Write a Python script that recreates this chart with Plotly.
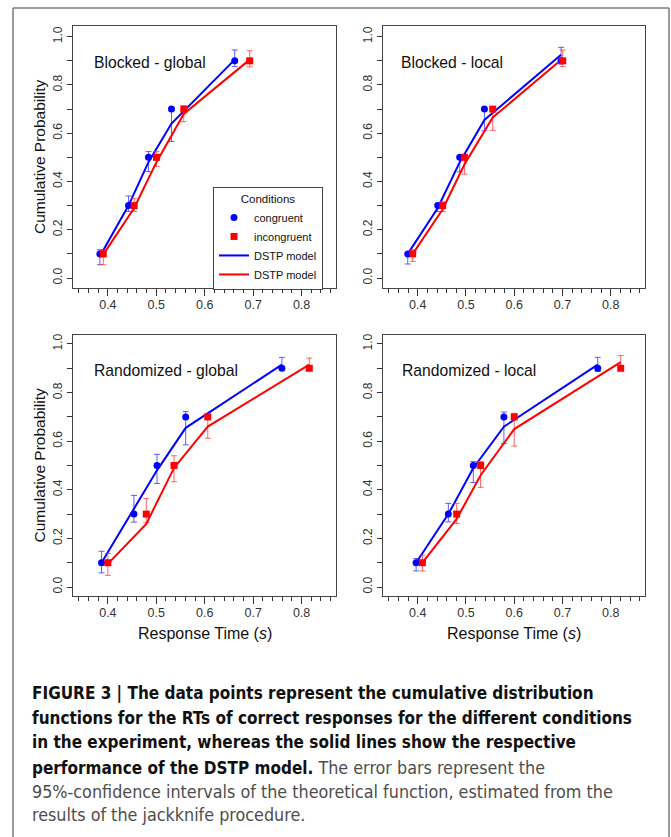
import plotly.graph_objects as go

W, H = 671, 837

# ---------------- data ----------------
panel_titles = ["Blocked - global", "Blocked - local", "Randomized - global", "Randomized - local"]
probs = [0.1, 0.3, 0.5, 0.7, 0.9]
x_tick_vals = [0.4, 0.5, 0.6, 0.7, 0.8]
x_tick_text = ["0.4", "0.5", "0.6", "0.7", "0.8"]
y_tick_vals = [0.0, 0.1, 0.2, 0.3, 0.4, 0.5, 0.6, 0.7, 0.8, 0.9, 1.0]
y_tick_text = ["0.0", "", "0.2", "", "0.4", "", "0.6", "", "0.8", "", "1.0"]

# Blocked - global
bg_cong_rt = [0.3835, 0.4426, 0.4838, 0.5313, 0.6619]
bg_incong_rt = [0.3904, 0.4543, 0.5003, 0.5567, 0.6928]
bg_cong_model = [0.09, 0.30, 0.48, 0.64, 0.905]
bg_cong_lo = [0.055, 0.276, 0.441, 0.566, 0.876]
bg_cong_hi = [0.117, 0.340, 0.524, 0.703, 0.945]
bg_incong_model = [0.097, 0.29, 0.48, 0.68, 0.905]
bg_incong_lo = [0.055, 0.276, 0.462, 0.648, 0.875]
bg_incong_hi = [0.117, 0.330, 0.524, 0.713, 0.942]

# Blocked - local
bl_cong_rt = [0.3793, 0.4415, 0.4870, 0.5382, 0.6971]
bl_incong_rt = [0.3896, 0.4518, 0.4967, 0.5554, 0.7005]
bl_cong_model = [0.10, 0.29, 0.48, 0.655, 0.925]
bl_cong_lo = [0.058, 0.275, 0.44, 0.61, 0.887]
bl_cong_hi = [0.103, 0.31, 0.50, 0.70, 0.956]
bl_incong_model = [0.10, 0.285, 0.47, 0.665, 0.91]
bl_incong_lo = [0.069, 0.275, 0.43, 0.612, 0.876]
bl_incong_hi = [0.117, 0.316, 0.509, 0.708, 0.945]

# Randomized - global
rg_cong_rt = [0.3869, 0.4538, 0.5014, 0.5607, 0.7593]
rg_incong_rt = [0.4000, 0.4793, 0.5366, 0.6062, 0.8159]
rg_cong_model = [0.10, 0.32, 0.48, 0.655, 0.915]
rg_cong_lo = [0.058, 0.267, 0.426, 0.585, 0.90]
rg_cong_hi = [0.147, 0.377, 0.546, 0.722, 0.945]
rg_incong_model = [0.095, 0.26, 0.49, 0.66, 0.915]
rg_incong_lo = [0.048, 0.265, 0.433, 0.612, 0.894]
rg_incong_hi = [0.138, 0.364, 0.54, 0.704, 0.942]

# Randomized - local
rl_cong_rt = [0.3966, 0.4634, 0.5152, 0.5786, 0.7731]
rl_incong_rt = [0.4097, 0.4807, 0.5303, 0.6000, 0.8207]
rl_cong_model = [0.10, 0.30, 0.49, 0.66, 0.915]
rl_cong_lo = [0.066, 0.268, 0.43, 0.59, 0.887]
rl_cong_hi = [0.117, 0.344, 0.516, 0.72, 0.945]
rl_incong_model = [0.10, 0.28, 0.46, 0.65, 0.925]
rl_incong_lo = [0.066, 0.261, 0.41, 0.58, 0.894]
rl_incong_hi = [0.131, 0.344, 0.516, 0.715, 0.953]

caption_lines = [
    ("FIGURE 3 | The data points represent the cumulative distribution", ""),
    ("functions for the RTs of correct responses for the different conditions", ""),
    ("in the experiment, whereas the solid lines show the respective", ""),
    ("performance of the DSTP model.", " The error bars represent the"),
    ("", "95%-confidence intervals of the theoretical function, estimated from the"),
    ("", "results of the jackknife procedure."),
]

# ---------------- layout helpers ----------------
def fx(p):
    return p / W

def fy(p):
    return 1 - p / H

BLUE = "#0000FF"
RED = "#FF0000"
FONT = "Liberation Sans, Arial, sans-serif"
CAP_FONT = "DejaVu Sans Condensed, Liberation Sans Narrow, Liberation Sans, sans-serif"

panels = [
    dict(title=panel_titles[0], cr=bg_cong_rt, ir=bg_incong_rt, cm=bg_cong_model, cl=bg_cong_lo, ch=bg_cong_hi,
         im=bg_incong_model, il=bg_incong_lo, ih=bg_incong_hi,
         xd=[fx(73), fx(336)], yd=[fy(288), fy(26)], yr=[-0.0414, 1.0443], lab=(92, 62), ytitle=True, xtitle=False),
    dict(title=panel_titles[1], cr=bl_cong_rt, ir=bl_incong_rt, cm=bl_cong_model, cl=bl_cong_lo, ch=bl_cong_hi,
         im=bl_incong_model, il=bl_incong_lo, ih=bl_incong_hi,
         xd=[fx(383), fx(645)], yd=[fy(288), fy(26)], yr=[-0.0414, 1.0443], lab=(399, 62), ytitle=False, xtitle=False),
    dict(title=panel_titles[2], cr=rg_cong_rt, ir=rg_incong_rt, cm=rg_cong_model, cl=rg_cong_lo, ch=rg_cong_hi,
         im=rg_incong_model, il=rg_incong_lo, ih=rg_incong_hi,
         xd=[fx(73), fx(336)], yd=[fy(596), fy(335)], yr=[-0.037, 1.037], lab=(92, 371), ytitle=True, xtitle=True),
    dict(title=panel_titles[3], cr=rl_cong_rt, ir=rl_incong_rt, cm=rl_cong_model, cl=rl_cong_lo, ch=rl_cong_hi,
         im=rl_incong_model, il=rl_incong_lo, ih=rl_incong_hi,
         xd=[fx(383), fx(645)], yd=[fy(596), fy(335)], yr=[-0.037, 1.037], lab=(400, 371), ytitle=False, xtitle=True),
]

fig = go.Figure()
annotations = []
layout_axes = {}

for i, p in enumerate(panels):
    n = i + 1
    xa = "x" if n == 1 else f"x{n}"
    ya = "y" if n == 1 else f"y{n}"
    first = (n == 1)

    # model lines with CI error bars
    fig.add_trace(go.Scatter(
        x=p["cr"], y=p["cm"], mode="lines", xaxis=xa, yaxis=ya,
        line=dict(color=BLUE, width=2),
        error_y=dict(type="data", symmetric=False,
                     array=[h - m for h, m in zip(p["ch"], p["cm"])],
                     arrayminus=[m - l for m, l in zip(p["cm"], p["cl"])],
                     color="rgba(40,40,255,0.75)", thickness=1, width=3),
        name="DSTP model", showlegend=first, legendrank=3))
    fig.add_trace(go.Scatter(
        x=p["ir"], y=p["im"], mode="lines", xaxis=xa, yaxis=ya,
        line=dict(color=RED, width=2),
        error_y=dict(type="data", symmetric=False,
                     array=[h - m for h, m in zip(p["ih"], p["im"])],
                     arrayminus=[m - l for m, l in zip(p["im"], p["il"])],
                     color="rgba(255,50,50,0.75)", thickness=1, width=3),
        name="DSTP model", showlegend=first, legendrank=4))
    # data points
    fig.add_trace(go.Scatter(
        x=p["cr"], y=probs, mode="markers", xaxis=xa, yaxis=ya,
        marker=dict(color=BLUE, symbol="circle", size=7),
        name="congruent", showlegend=first, legendrank=1))
    fig.add_trace(go.Scatter(
        x=p["ir"], y=probs, mode="markers", xaxis=xa, yaxis=ya,
        marker=dict(color=RED, symbol="square", size=7),
        name="incongruent", showlegend=first, legendrank=2))

    xkey = "xaxis" if n == 1 else f"xaxis{n}"
    ykey = "yaxis" if n == 1 else f"yaxis{n}"
    layout_axes[xkey] = dict(
        domain=p["xd"], anchor=ya, range=[0.328, 0.871],
        tickvals=x_tick_vals, ticktext=x_tick_text,
        ticks="outside", ticklen=7, tickwidth=1, tickcolor="#333",
        minor=dict(dtick=0.02, tick0=0, ticks="outside", ticklen=4, tickwidth=1, tickcolor="#333", showgrid=False),
        showline=True, linecolor="#444", linewidth=1, mirror=True,
        showgrid=False, zeroline=False, ticklabelstandoff=-2,
        tickfont=dict(family=FONT, size=12.5, color="#333"))
    layout_axes[ykey] = dict(
        domain=p["yd"], anchor=xa, range=p["yr"],
        tickvals=y_tick_vals, ticktext=y_tick_text, tickangle=-90,
        ticks="outside", ticklen=5, tickwidth=1, tickcolor="#333",
        showline=True, linecolor="#444", linewidth=1, mirror=True,
        showgrid=False, zeroline=False,
        tickfont=dict(family=FONT, size=12, color="#333"))

    annotations.append(dict(
        text=p["title"], x=fx(p["lab"][0]), y=fy(p["lab"][1]), xref="paper", yref="paper",
        xanchor="left", yanchor="middle", showarrow=False,
        font=dict(family=FONT, size=15.7, color="#111")))
    if p["ytitle"]:
        cy = (p["yd"][0] + p["yd"][1]) / 2
        annotations.append(dict(
            text="Cumulative Probability", x=fx(39), y=cy, xref="paper", yref="paper",
            xanchor="center", yanchor="middle", textangle=-90, showarrow=False,
            font=dict(family=FONT, size=15.5, color="#111")))
    if p["xtitle"]:
        cx = (p["xd"][0] + p["xd"][1]) / 2
        annotations.append(dict(
            text="Response Time (<i>s</i>)", x=cx, y=fy(633), xref="paper", yref="paper",
            xanchor="center", yanchor="middle", showarrow=False,
            font=dict(family=FONT, size=16, color="#111")))

# caption
cap_y = [693, 718, 742, 767, 791, 814]
for (bold, normal), yy in zip(caption_lines, cap_y):
    txt = ""
    if bold:
        txt += f"<b>{bold}</b>"
    if normal:
        txt += f"<span style='color:#4d4d4d;font-size:17.8px'>{normal}</span>"
    annotations.append(dict(
        text=txt, x=fx(30), y=fy(yy), xref="paper", yref="paper",
        xanchor="left", yanchor="middle", showarrow=False,
        font=dict(family=CAP_FONT, size=17, color="#111")))

shapes = [
    dict(type="line", xref="paper", yref="paper", x0=fx(13), x1=fx(13), y0=fy(837), y1=fy(8),
         line=dict(color="#7a7a7a", width=1.5)),
    dict(type="line", xref="paper", yref="paper", x0=fx(13), x1=fx(669), y0=fy(8), y1=fy(8),
         line=dict(color="#7a7a7a", width=1.5)),
    dict(type="line", xref="paper", yref="paper", x0=fx(669), x1=fx(669), y0=fy(8), y1=fy(837),
         line=dict(color="#7a7a7a", width=1.5)),
]

fig.update_layout(
    width=W, height=H,
    margin=dict(l=0, r=0, t=0, b=0),
    paper_bgcolor="white", plot_bgcolor="white",
    font=dict(family=FONT, color="#111"),
    showlegend=True,
    legend=dict(
        x=fx(213), y=fy(187), xanchor="left", yanchor="top",
        bgcolor="white", bordercolor="#444", borderwidth=1,
        font=dict(family=FONT, size=11, color="#111"),
        title=dict(text="Conditions", side="top center", font=dict(family=FONT, size=11.5, color="#111")),
        itemwidth=30, tracegroupgap=0,
        traceorder="normal",
    ),
    annotations=annotations,
    shapes=shapes,
    **layout_axes,
)

fig.write_html("out.html", config={"displayModeBar": False},
               post_script="document.body.style.margin='0';document.body.style.overflow='hidden';")
